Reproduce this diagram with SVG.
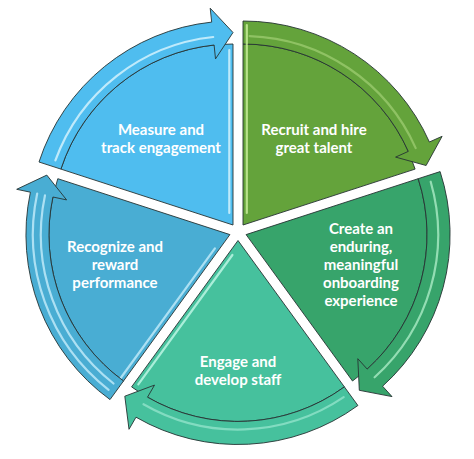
<svg xmlns="http://www.w3.org/2000/svg" width="474" height="459" viewBox="0 0 474 459">
<style>
.body{stroke:#263333;stroke-width:0.9;stroke-linejoin:round}
.arr{stroke:#263333;stroke-width:0.9;stroke-linejoin:miter}
.hl{fill:none;stroke-width:2.2;stroke-linecap:round}
.lbl{font-family:Lato,"Open Sans","Liberation Sans",sans-serif;font-weight:bold;font-size:15px;fill:#ffffff;text-anchor:middle}
.c1{fill:#4fbdef}.s1{stroke:#bfeafb}
.c2{fill:#64a33b}.s2{stroke:#b9e28c}
.c3{fill:#37a46b}.s3{stroke:#93ddb3}
.c4{fill:#46c19d}.s4{stroke:#aaeed9}
.c5{fill:#49add3}.s5{stroke:#ace0f3}
</style>
<rect width="474" height="459" fill="#ffffff"/>
<g id="node-measure">
<path class="body c1" d="M233,225 L60.9,169.1 A181,181 0 0 1 233,44 Z"/>
<path class="hl s1" d="M229.3,213 L229.3,50"/>
<text class="lbl" x="161" y="134.5">Measure and</text>
<text class="lbl" x="161" y="152.5">track engagement</text>
</g>
<g id="node-recruit">
<path class="body c2" d="M243,225 L243,44 A181,181 0 0 1 415.1,169.1 Z"/>
<path class="hl s2" d="M246.8,213 L246.8,44"/>
<text class="lbl" x="314" y="134.5">Recruit and hire</text>
<text class="lbl" x="314" y="152.5">great talent</text>
</g>
<g id="node-onboard">
<path class="body c3" d="M246.1,234.6 L418.2,178.7 A181,181 0 0 1 352.5,381 Z"/>
<text class="lbl" x="361" y="234">Create an</text>
<text class="lbl" x="361" y="252">enduring,</text>
<text class="lbl" x="361" y="270">meaningful</text>
<text class="lbl" x="361" y="288">onboarding</text>
<text class="lbl" x="361" y="306">experience</text>
</g>
<g id="node-engage">
<path class="body c4" d="M238,240.5 L344.4,386.9 A181,181 0 0 1 131.6,386.9 Z"/>
<path class="hl s4" d="M232.4,255 L138.3,384.4"/>
<text class="lbl" x="238" y="367">Engage and</text>
<text class="lbl" x="238" y="385">develop staff</text>
</g>
<g id="node-recognize">
<path class="body c5" d="M229.9,234.6 L123.5,381 A181,181 0 0 1 57.8,178.7 Z"/>
<path class="hl s5" d="M214.9,248.4 L112,390"/>
<text class="lbl" x="115" y="252">Recognize and</text>
<text class="lbl" x="115" y="270">reward</text>
<text class="lbl" x="115" y="288">performance</text>
</g>
<g id="connectors">
<path class="arr c1" d="M60.9,169.1 L39,162 A204,204 0 0 1 211.7,22.1 L210.2,8.2 L233,32.5 L215.5,58.9 L214.1,45 A181,181 0 0 0 60.9,169.1 Z"/>
<path class="hl s1" d="M55.4,160.4 A189,189 0 0 1 213.2,37"/>
<path class="arr c2" d="M243,44 L243,21 A204,204 0 0 1 429.4,142 L442.1,136.3 L426.1,165.5 L395.6,157.1 L408.3,151.4 A181,181 0 0 0 243,44 Z"/>
<path class="hl s2" d="M246.8,44 L246.8,25" />
<path class="hl s2" opacity="0.5" d="M249.6,36.1 A189,189 0 0 1 415.7,148.1"/>
<path class="arr c3" d="M418.2,178.7 L440.1,171.6 A204,204 0 0 1 382.6,386.2 L392,396.6 L359.3,390.3 L357.8,358.7 L367.2,369.1 A181,181 0 0 0 418.2,178.7 Z"/>
<path class="hl s3" d="M430.7,181.7 A192,192 0 0 1 374.6,377.3"/>
<path class="arr c4" d="M344.4,386.9 L357.9,405.5 A204,204 0 0 1 136,417.2 L129,429.3 L124.8,396.2 L154.5,385.1 L147.5,397.2 A181,181 0 0 0 344.4,386.9 Z"/>
<path class="hl s4" opacity="0.6" d="M343.7,397.2 A189,189 0 0 1 143.5,404.2"/>
<path class="arr c5" d="M123.5,381 L110,399.6 A204,204 0 0 1 30.4,192.2 L16.7,189.3 L46.8,175.1 L66.6,199.9 L52.9,197 A181,181 0 0 0 123.5,381 Z"/>
<path class="hl s5" d="M113.5,383.5 A189,189 0 0 1 45,195.3"/>
<path class="hl s5" d="M108.6,389.8 A197,197 0 0 1 37.2,193.6"/>
</g>
</svg>
